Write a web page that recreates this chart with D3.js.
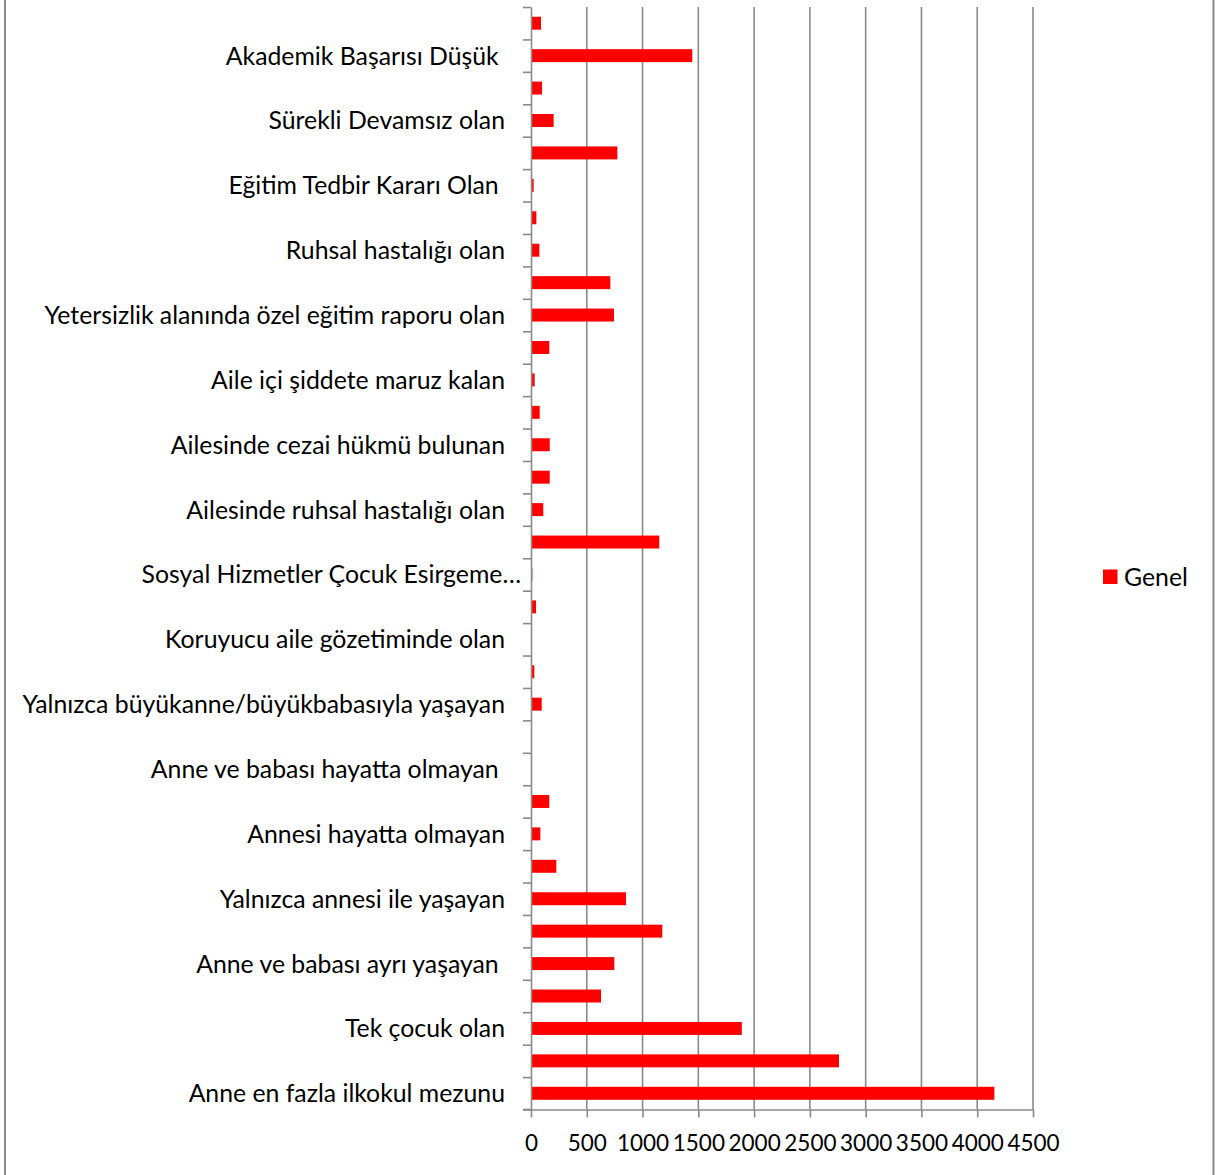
<!DOCTYPE html>
<html>
<head>
<meta charset="utf-8">
<script src="https://cdn.jsdelivr.net/npm/d3@7"></script>
<style>
  body { margin: 0; background: #fff; }
  #chart text { font-family: Lato, "Open Sans", sans-serif; fill: #000; }
</style>
</head>
<body>
<div id="chart"></div>
<script>
// categories, top to bottom (Excel skipped every other label)
const categories = [
  "", "Akademik Başarısı Düşük\u00a0",
  "", "Sürekli Devamsız olan",
  "", "Eğitim Tedbir Kararı Olan\u00a0",
  "", "Ruhsal hastalığı olan",
  "", "Yetersizlik alanında özel eğitim raporu olan",
  "", "Aile içi şiddete maruz kalan",
  "", "Ailesinde cezai hükmü bulunan",
  "", "Ailesinde ruhsal hastalığı olan",
  "", "Sosyal Hizmetler Çocuk Esirgeme…",
  "", "Koruyucu aile gözetiminde olan",
  "", "Yalnızca büyükanne/büyükbabasıyla yaşayan",
  "", "Anne ve babası hayatta olmayan\u00a0",
  "", "Annesi hayatta olmayan",
  "", "Yalnızca annesi ile yaşayan",
  "", "Anne ve babası ayrı yaşayan\u00a0",
  "", "Tek çocuk olan",
  "", "Anne en fazla ilkokul mezunu",
];
const genel = [
  90, 1446, 99, 203, 774, 24, 48, 75, 711, 744, 164, 33, 78, 168, 168, 110,
  1150, 12, 45, 8, 30, 96, 2, 6, 164, 84, 227, 852, 1177, 747, 628, 1890,
  2761, 4154,
];
const xTicks = [0, 500, 1000, 1500, 2000, 2500, 3000, 3500, 4000, 4500];
const seriesName = "Genel";

const W = 1215, H = 1175;
const plot = { left: 531, right: 1033, top: 7, bottom: 1109.5 };
const gray = "#8a8a8a";
const fontSize = 24.8;

const svg = d3
  .select("#chart")
  .append("svg")
  .attr("width", W)
  .attr("height", H);

// outer chart border (only the sides are in view)
svg.append("line").attr("x1", 5).attr("x2", 5).attr("y1", 0).attr("y2", H)
  .attr("stroke", gray).attr("stroke-width", 2);
svg.append("line").attr("x1", 1213.5).attr("x2", 1213.5).attr("y1", 0).attr("y2", H)
  .attr("stroke", gray).attr("stroke-width", 2);

const x = d3
  .scaleLinear()
  .domain([0, 4500])
  .range([plot.left, plot.right]);

const y = d3
  .scaleBand()
  .domain(d3.range(categories.length))
  .range([plot.top, plot.bottom])
  .paddingInner(0.6)
  .paddingOuter(0.3);

const yBound = d3
  .scaleLinear()
  .domain([0, categories.length])
  .range([plot.top, plot.bottom]);

// gridlines
svg
  .selectAll(".grid")
  .data(xTicks.slice(1))
  .enter()
  .append("line")
  .attr("class", "grid")
  .attr("x1", (d) => x(d))
  .attr("x2", (d) => x(d))
  .attr("y1", plot.top)
  .attr("y2", plot.bottom)
  .attr("stroke", gray)
  .attr("stroke-width", 1.6);

// bars
svg
  .selectAll(".bar")
  .data(genel)
  .enter()
  .append("rect")
  .attr("class", "bar")
  .attr("x", x(0))
  .attr("y", (d, i) => y(i))
  .attr("width", (d) => x(d) - x(0))
  .attr("height", y.bandwidth())
  .attr("fill", "#ff0000");

// category axis
const yAxis = svg
  .append("g")
  .attr("transform", `translate(${plot.left},0)`)
  .call(
    d3.axisLeft(yBound)
      .tickValues(d3.range(categories.length + 1))
      .tickFormat("")
      .tickSize(8)
      .tickSizeOuter(0)
  );
yAxis.selectAll("path, line").attr("stroke", gray).attr("stroke-width", 1.6);

svg
  .selectAll(".cat-label")
  .data(categories.map((c, i) => ({ c, i })).filter((d) => d.c))
  .enter()
  .append("text")
  .attr("class", "cat-label")
  .attr("x", (d) => (d.c.endsWith("…") ? plot.left - 10 : plot.left - 26))
  .attr("y", (d) => y(d.i) + y.bandwidth() / 2)
  .attr("dy", "0.36em")
  .attr("text-anchor", "end")
  .style("font-size", fontSize + "px")
  .text((d) => d.c);

// value axis
const xAxis = svg
  .append("g")
  .attr("transform", `translate(0,${plot.bottom})`)
  .call(
    d3.axisBottom(x)
      .tickValues(xTicks)
      .tickFormat(d3.format("d"))
      .tickSize(8)
      .tickSizeOuter(0)
  );
xAxis.selectAll("path, line").attr("stroke", gray).attr("stroke-width", 1.6);
xAxis
  .selectAll("text")
  .attr("y", 25.5)
  .attr("dy", "0.71em")
  .style("font-size", "22.5px")
  .style("font-family", "Lato, sans-serif")
  .attr("fill", "#000");
// axis line reaches over to the first category tick
svg.append("line")
  .attr("x1", plot.left - 8).attr("x2", plot.left)
  .attr("y1", plot.bottom).attr("y2", plot.bottom)
  .attr("stroke", gray).attr("stroke-width", 1.6);

// legend
const legend = svg.append("g").attr("transform", "translate(1103,577)");
legend
  .append("rect")
  .attr("x", 0)
  .attr("y", -7.5)
  .attr("width", 14.5)
  .attr("height", 14.5)
  .attr("fill", "#ff0000");
legend
  .append("text")
  .attr("x", 21)
  .attr("y", 0)
  .attr("dy", "0.36em")
  .style("font-size", fontSize + "px")
  .text(seriesName);
</script>
</body>
</html>
